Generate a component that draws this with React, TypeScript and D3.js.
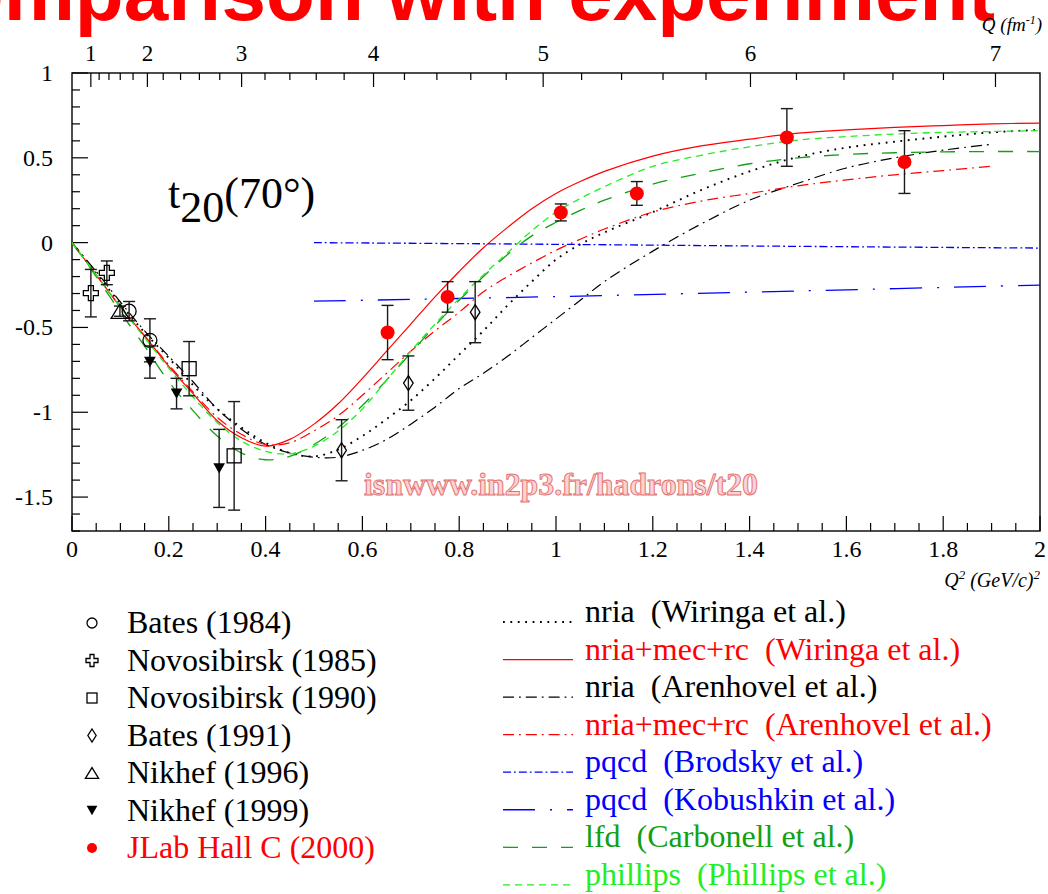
import * as d3 from "d3";

const gridX = [0, 0.05, 0.1, 0.15, 0.2, 0.25, 0.3, 0.35, 0.4, 0.45, 0.5, 0.55, 0.6, 0.65, 0.7, 0.75, 0.8, 0.85, 0.9, 0.95, 1.0, 1.05, 1.1, 1.2, 1.3, 1.4, 1.5, 1.6, 1.7, 1.8, 1.9, 2.0];
const gridXShort = [0, 0.05, 0.1, 0.15, 0.2, 0.25, 0.3, 0.35, 0.4, 0.45, 0.5, 0.55, 0.6, 0.65, 0.7, 0.75, 0.8, 0.85, 0.9, 0.95, 1.0, 1.05, 1.1, 1.2, 1.3, 1.4, 1.5, 1.6, 1.7, 1.8, 1.9];

const nriaWiringa = [0, -0.18, -0.36, -0.53, -0.68, -0.84, -0.98, -1.09, -1.18, -1.24, -1.26, -1.22, -1.14, -1.04, -0.93, -0.8, -0.66, -0.52, -0.37, -0.23, -0.1, -0.01, 0.06, 0.18, 0.31, 0.42, 0.505, 0.56, 0.595, 0.625, 0.65, 0.665];
const mecWiringa = [0, -0.19, -0.38, -0.55, -0.73, -0.89, -1.05, -1.15, -1.2, -1.16, -1.07, -0.95, -0.8, -0.64, -0.48, -0.32, -0.17, -0.03, 0.09, 0.2, 0.29, 0.36, 0.42, 0.51, 0.57, 0.61, 0.645, 0.665, 0.68, 0.69, 0.7, 0.705];
const nriaArenhovel = [0, -0.17, -0.35, -0.52, -0.67, -0.82, -0.98, -1.1, -1.19, -1.24, -1.265, -1.265, -1.225, -1.16, -1.07, -0.97, -0.86, -0.77, -0.67, -0.56, -0.45, -0.34, -0.23, -0.05, 0.11, 0.25, 0.35, 0.44, 0.5, 0.545, 0.58];
const mecArenhovel = [0, -0.19, -0.38, -0.55, -0.72, -0.88, -1.03, -1.13, -1.19, -1.18, -1.11, -1.02, -0.9, -0.77, -0.64, -0.52, -0.41, -0.29, -0.2, -0.12, -0.045, 0.02, 0.08, 0.18, 0.245, 0.29, 0.335, 0.37, 0.4, 0.425, 0.45];
const lfdCarbonell = [0, -0.2, -0.41, -0.61, -0.82, -0.99, -1.14, -1.24, -1.28, -1.26, -1.19, -1.09, -0.96, -0.81, -0.65, -0.49, -0.34, -0.2, -0.07, 0.04, 0.12, 0.19, 0.25, 0.345, 0.41, 0.465, 0.5, 0.52, 0.53, 0.535, 0.537, 0.537];
const phillips = [0, -0.19, -0.38, -0.56, -0.74, -0.91, -1.06, -1.17, -1.23, -1.245, -1.2, -1.11, -0.98, -0.81, -0.64, -0.48, -0.33, -0.19, -0.06, 0.07, 0.18, 0.26, 0.33, 0.45, 0.515, 0.565, 0.605, 0.625, 0.64, 0.65, 0.655, 0.66];
const pqcdX = [0.5, 1.0, 1.5, 2.0];
const pqcdBrodsky = [0, -0.01, -0.022, -0.032];
const pqcdKobushkin = [-0.345, -0.318, -0.285, -0.25];

// experiments: Q^2, t20, error
const bates84X = [0.118, 0.161];
const bates84Y = [-0.404, -0.576];
const bates84E = [0.057, 0.127];
const novo85X = [0.039, 0.072];
const novo85Y = [-0.298, -0.178];
const novo85E = [0.14, 0.07];
const novo90X = [0.242, 0.335];
const novo90Y = [-0.743, -1.257];
const novo90E = [0.16, 0.32];
const bates91X = [0.557, 0.695, 0.833];
const bates91Y = [-1.224, -0.828, -0.41];
const bates91E = [0.18, 0.16, 0.18];
const nikhef96X = [0.099];
const nikhef96Y = [-0.404];
const nikhef96E = [0.03];
const nikhef99X = [0.161, 0.216, 0.304];
const nikhef99Y = [-0.704, -0.89, -1.331];
const nikhef99E = [0.095, 0.09, 0.23];
const jlabX = [0.652, 0.776, 1.01, 1.167, 1.477, 1.72];
const jlabY = [-0.53, -0.32, 0.178, 0.29, 0.62, 0.475];
const jlabE = [0.16, 0.09, 0.05, 0.07, 0.17, 0.185];

const expLabels = ["Bates (1984)", "Novosibirsk (1985)", "Novosibirsk (1990)", "Bates (1991)", "Nikhef (1996)", "Nikhef (1999)", "JLab Hall C (2000)"];
const theoryLabels = ["nria  (Wiringa et al.)", "nria+mec+rc  (Wiringa et al.)", "nria  (Arenhovel et al.)", "nria+mec+rc  (Arenhovel et al.)", "pqcd  (Brodsky et al.)", "pqcd  (Kobushkin et al.)", "lfd  (Carbonell et al.)", "phillips  (Phillips et al.)"];

const yTicks = [-1.5, -1, -0.5, 0, 0.5, 1];
const yTickLabels = ["-1.5", "-1", "-0.5", "0", "0.5", "1"];
const xTicks = [0, 0.2, 0.4, 0.6, 0.8, 1, 1.2, 1.4, 1.6, 1.8, 2];
const xTickLabels = ["0", "0.2", "0.4", "0.6", "0.8", "1", "1.2", "1.4", "1.6", "1.8", "2"];
const qTicks = [1, 2, 3, 4, 5, 6, 7];

const HBARC = 0.19733;
const SERIF = "'Liberation Serif', 'Times New Roman', serif";
const GREEN_DARK = "#12a012";
const GREEN_LIGHT = "#22ee22";

function Marker({ kind, cx, cy, s }: { kind: string; cx: number; cy: number; s: number }) {
  const sw = 1.3;
  if (kind === "circle") return <circle cx={cx} cy={cy} r={s * 0.5} fill="none" stroke="#000" strokeWidth={sw} />;
  if (kind === "dot") return <circle cx={cx} cy={cy} r={s * 0.5} fill="#ff0000" />;
  if (kind === "square") return <rect x={cx - s / 2} y={cy - s / 2} width={s} height={s} fill="none" stroke="#000" strokeWidth={sw} />;
  if (kind === "plus") {
    const a = s / 2, b = s / 6;
    const d = `M${cx - b},${cy - a}H${cx + b}V${cy - b}H${cx + a}V${cy + b}H${cx + b}V${cy + a}H${cx - b}V${cy + b}H${cx - a}V${cy - b}H${cx - b}Z`;
    return <path d={d} fill="none" stroke="#000" strokeWidth={sw} />;
  }
  if (kind === "diamond") {
    const w = s * 0.32, h = s * 0.5;
    return <path d={`M${cx},${cy - h}L${cx + w},${cy}L${cx},${cy + h}L${cx - w},${cy}Z`} fill="none" stroke="#000" strokeWidth={sw} />;
  }
  if (kind === "triUp") {
    const w = s * 0.55, h = s * 0.45;
    return <path d={`M${cx},${cy - h}L${cx + w},${cy + h}L${cx - w},${cy + h}Z`} fill="none" stroke="#000" strokeWidth={sw} />;
  }
  const w = s * 0.45, h = s * 0.4;
  return <path d={`M${cx - w},${cy - h}L${cx + w},${cy - h}L${cx},${cy + h}Z`} fill="#000" />;
}

export default function App() {
  const x = d3.scaleLinear().domain([0, 2]).range([72, 1040]);
  const y = d3.scaleLinear().domain([-1.7, 1]).range([531, 73]);
  const q = d3.scalePow().exponent(2).domain([0, Math.sqrt(2) / HBARC]).range([72, 1040]);

  const line = d3
    .line<[number, number]>()
    .x((d) => x(d[0]))
    .y((d) => y(d[1]))
    .curve(d3.curveCatmullRom.alpha(0.5));

  const theory = [
    { xs: gridX, ys: nriaWiringa, color: "#000", dash: "1.8 5.6", w: 1.9 },
    { xs: gridX, ys: mecWiringa, color: "#ff0000", dash: "none", w: 1.2 },
    { xs: gridXShort, ys: nriaArenhovel, color: "#000", dash: "11 5 1.8 5", w: 1.2 },
    { xs: gridXShort, ys: mecArenhovel, color: "#ff0000", dash: "11 5 1.8 5", w: 1.2 },
    { xs: pqcdX, ys: pqcdBrodsky, color: "#0000ff", dash: "8 3 1.8 3", w: 1.3 },
    { xs: pqcdX, ys: pqcdKobushkin, color: "#0000ff", dash: "32 15 2 15", w: 1.3 },
    { xs: gridX, ys: lfdCarbonell, color: GREEN_DARK, dash: "15 14", w: 1.3 },
    { xs: gridX, ys: phillips, color: GREEN_LIGHT, dash: "7 5", w: 1.3 },
  ];
  const theoryTextColors = ["#000", "#ff0000", "#000", "#ff0000", "#0000ff", "#0000ff", GREEN_DARK, GREEN_LIGHT];

  const exps = [
    { kind: "circle", xs: bates84X, ys: bates84Y, es: bates84E, s: 14, ls: 10 },
    { kind: "plus", xs: novo85X, ys: novo85Y, es: novo85E, s: 15, ls: 12 },
    { kind: "square", xs: novo90X, ys: novo90Y, es: novo90E, s: 14, ls: 10 },
    { kind: "diamond", xs: bates91X, ys: bates91Y, es: bates91E, s: 15, ls: 13 },
    { kind: "triUp", xs: nikhef96X, ys: nikhef96Y, es: nikhef96E, s: 16, ls: 12 },
    { kind: "triDown", xs: nikhef99X, ys: nikhef99Y, es: nikhef99E, s: 13, ls: 12 },
    { kind: "dot", xs: jlabX, ys: jlabY, es: jlabE, s: 14, ls: 10 },
  ];

  const yMinor = d3.range(-17, 11).map((i) => i / 10).filter((v) => Math.abs(v * 2 - Math.round(v * 2)) > 1e-6);
  const xMinor = d3.range(0, 41).map((i) => i * 0.05).filter((v) => Math.abs(v * 5 - Math.round(v * 5)) > 1e-6);
  const qMinor = d3.range(5, 36).map((i) => i * 0.2).filter((v) => Math.abs(v - Math.round(v)) > 1e-6 && q(v) <= 1040);

  return (
    <svg width={1048} height={894} style={{ position: "absolute", left: 0, top: 0, background: "#fff" }} fontFamily={SERIF}>
      <rect width={1048} height={894} fill="#fff" />
      {/* cut-off slide title */}
      <text x={995} y={20} textAnchor="end" fontFamily="'Liberation Sans', Arial, sans-serif" fontWeight="bold" fontSize={80} fill="#ff0000">
        Comparison with experiment
      </text>

      {/* frame */}
      <rect x={72} y={73} width={968} height={458} fill="none" stroke="#000" strokeWidth={1.4} />

      {/* left axis */}
      {yTicks.map((v, i) => (
        <g key={"yt" + i}>
          <line x1={72} x2={88} y1={y(v)} y2={y(v)} stroke="#000" strokeWidth={1.2} />
          <text x={53} y={y(v) + 8} textAnchor="end" fontSize={24}>{yTickLabels[i]}</text>
        </g>
      ))}
      {yMinor.map((v, i) => (
        <line key={"ym" + i} x1={72} x2={80} y1={y(v)} y2={y(v)} stroke="#000" strokeWidth={1.2} />
      ))}

      {/* bottom axis */}
      {xTicks.map((v, i) => (
        <g key={"xt" + i}>
          <line x1={x(v)} x2={x(v)} y1={531} y2={516} stroke="#000" strokeWidth={1.2} />
          <text x={x(v)} y={557} textAnchor="middle" fontSize={24}>{xTickLabels[i]}</text>
        </g>
      ))}
      {xMinor.map((v, i) => (
        <line key={"xm" + i} x1={x(v)} x2={x(v)} y1={531} y2={523} stroke="#000" strokeWidth={1.2} />
      ))}
      <text x={1040} y={587} textAnchor="end" fontSize={20} fontStyle="italic">
        Q<tspan dy={-8} fontSize={13}>2</tspan>
        <tspan dy={8}> (GeV/c)</tspan>
        <tspan dy={-8} fontSize={13}>2</tspan>
      </text>

      {/* top axis in Q (fm^-1) */}
      {qTicks.map((v) => (
        <g key={"qt" + v}>
          <line x1={q(v)} x2={q(v)} y1={73} y2={87} stroke="#000" strokeWidth={1.2} />
          <text x={q(v)} y={61} textAnchor="middle" fontSize={23}>{v}</text>
        </g>
      ))}
      {qMinor.map((v, i) => (
        <line key={"qm" + i} x1={q(v)} x2={q(v)} y1={73} y2={80} stroke="#000" strokeWidth={1.2} />
      ))}
      <text x={1042} y={31} textAnchor="end" fontSize={19} fontStyle="italic">
        Q (fm<tspan dy={-7} fontSize={12}>-1</tspan>
        <tspan dy={7}>)</tspan>
      </text>

      {/* observable label */}
      <text x={168} y={208} fontSize={44}>
        t<tspan dy={14}>20</tspan>
        <tspan dy={-14}>(70°)</tspan>
      </text>

      {/* watermark */}
      <text x={364} y={495} fontSize={31} fontWeight="bold" fill="#fbd3d3" stroke="#e27070" strokeWidth={0.9} textLength={394} lengthAdjust="spacingAndGlyphs">
        isnwww.in2p3.fr/hadrons/t20
      </text>

      {/* theory curves */}
      {theory.map((c, i) => (
        <path
          key={"th" + i}
          d={line(c.xs.map((v, j) => [v, c.ys[j]] as [number, number])) || ""}
          fill="none"
          stroke={c.color}
          strokeWidth={c.w}
          strokeDasharray={c.dash}
        />
      ))}

      {/* experimental points */}
      {exps.map((e, i) => (
        <g key={"ex" + i}>
          {e.xs.map((v, j) => {
            const px = x(v);
            const y0 = y(e.ys[j] + e.es[j]);
            const y1 = y(e.ys[j] - e.es[j]);
            return (
              <g key={j}>
                <line x1={px} x2={px} y1={y0} y2={y1} stroke="#1a1a1a" strokeWidth={1.4} />
                <line x1={px - 6} x2={px + 6} y1={y0} y2={y0} stroke="#1a1a1a" strokeWidth={1.4} />
                <line x1={px - 6} x2={px + 6} y1={y1} y2={y1} stroke="#1a1a1a" strokeWidth={1.4} />
                <Marker kind={e.kind} cx={px} cy={y(e.ys[j])} s={e.s} />
              </g>
            );
          })}
        </g>
      ))}

      {/* experiment legend */}
      {expLabels.map((lab, i) => {
        const by = 633 + i * 37.5;
        return (
          <g key={"le" + i}>
            <Marker kind={exps[i].kind} cx={92} cy={by - 10} s={exps[i].ls} />
            <text x={127} y={by} fontSize={32} fill={i === 6 ? "#ff0000" : "#000"}>{lab}</text>
          </g>
        );
      })}

      {/* theory legend */}
      {theoryLabels.map((lab, i) => {
        const by = 622 + i * 37.55;
        const c = theory[i];
        return (
          <g key={"lt" + i}>
            <line x1={503} x2={573} y1={by} y2={by} stroke={c.color} strokeWidth={c.w} strokeDasharray={c.dash} />
            <text x={585} y={by} fontSize={32} fill={theoryTextColors[i]} style={{ whiteSpace: "pre" }}>{lab}</text>
          </g>
        );
      })}
    </svg>
  );
}
